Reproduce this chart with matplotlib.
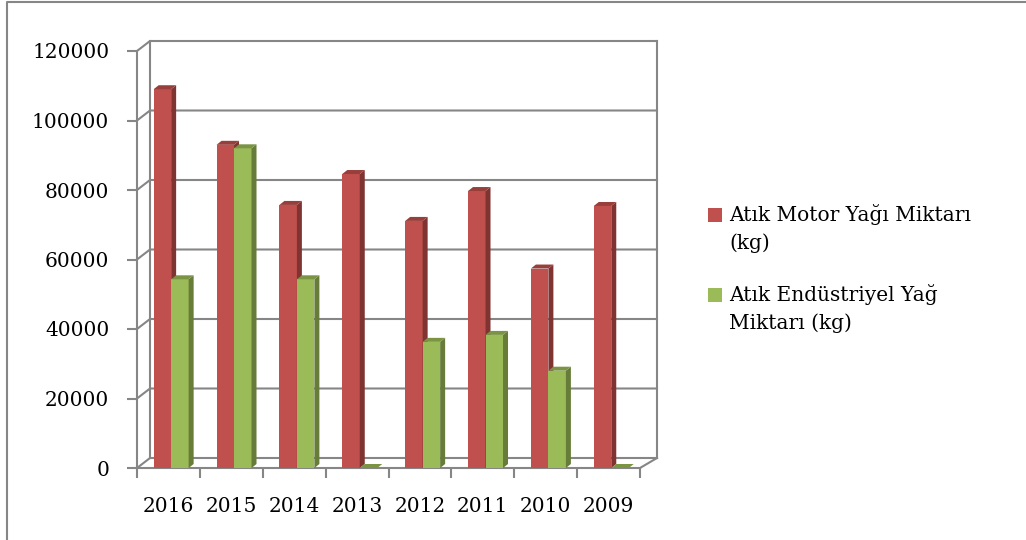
import matplotlib.pyplot as plt
from matplotlib.patches import Polygon, Rectangle
from matplotlib.lines import Line2D

years = ['2016', '2015', '2014', '2013', '2012', '2011', '2010', '2009']
motor = [109000, 93000, 75700, 84600, 71100, 79700, 57400, 75400]
endustriyel = [54300, 92000, 54300, 0, 36300, 38300, 28000, 0]
names = ['Atık Motor Yağı Miktarı\n(kg)', 'Atık Endüstriyel Yağ\nMiktarı (kg)']

W, H = 1026, 540
fig = plt.figure(figsize=(W / 100, H / 100), dpi=100)
plt.rcParams['font.family'] = ['DejaVu Serif']

def fx(px):
    return px / W

def fy(py):
    return 1 - py / H

# front plane of the 3d box
ax = fig.add_axes([fx(137), fy(468), fx(640) - fx(137), fy(51) - fy(468)])
ax.set_xlim(-0.5, 7.5)
ax.set_ylim(0, 120000)

ux = 503 / 8            # px per category
uy = 417 / 120000       # px per kg
DX, DY = 13 / ux, 10 / uy      # wall depth, left side
DXR = 17 / ux                  # wall depth, right side (perspective)
SX, SY = 5 / ux, 4 / uy        # bar depth
grid = '#868686'

# back wall, side wall and floor lines
yt = list(range(0, 120001, 20000))
for v in yt:
    ax.add_line(Line2D([-0.5, -0.5 + DX, 7.5 + DXR], [v, v + DY, v + DY],
                       color=grid, lw=1.5, clip_on=False, zorder=1))
ax.add_line(Line2D([-0.5 + DX, -0.5 + DX], [DY, 120000 + DY], color=grid, lw=1.5, clip_on=False, zorder=1))
ax.add_line(Line2D([7.5 + DXR, 7.5 + DXR], [DY, 120000 + DY], color=grid, lw=1.5, clip_on=False, zorder=1))
ax.add_line(Line2D([7.5, 7.5 + DXR], [0, DY], color=grid, lw=1.5, clip_on=False, zorder=1))

# bars with side and top faces
bw = 17.5 / ux
shift = 2.7 / ux
colors = [('#C0504D', '#7F3432', '#983E3B'), ('#9BBB59', '#667C38', '#7A9443')]
x = list(range(len(years)))
for i in x:
    for k, vals in enumerate([motor, endustriyel]):
        front, side, top = colors[k]
        left = i + shift - bw + k * bw
        b = ax.bar(left, vals[i], width=bw, align='edge', color=front,
                   edgecolor='none', zorder=3 + i * 2 + k)[0]
        x0, x1, h = b.get_x(), b.get_x() + b.get_width(), b.get_height()
        ax.add_patch(Polygon([(x1, 0), (x1, h), (x1 + SX, h + SY), (x1 + SX, SY)],
                             closed=True, color=side, lw=0, zorder=3 + i * 2 + k))
        ax.add_patch(Polygon([(x0, h), (x1, h), (x1 + SX, h + SY), (x0 + SX, h + SY)],
                             closed=True, color=top, lw=0, zorder=3 + i * 2 + k))

# front axes
for s in ['top', 'right']:
    ax.spines[s].set_visible(False)
for s in ['left', 'bottom']:
    ax.spines[s].set_color(grid)
    ax.spines[s].set_linewidth(1.5)
ax.set_facecolor('none')
ax.set_yticks(yt)
ax.set_yticklabels([str(v) for v in yt])
ax.tick_params(axis='y', direction='out', length=7, width=1.5, color=grid,
               pad=13, labelsize=14.5)
ax.set_xticks([i - 0.5 for i in range(9)])
ax.set_xticklabels([])
ax.set_xticks(x, minor=True)
ax.set_xticklabels(years, minor=True)
ax.tick_params(axis='x', which='major', direction='out', length=7, width=1.5, color=grid)
ax.tick_params(axis='x', which='minor', length=0, pad=21, labelsize=14.5)

# legend
leg_y = [215, 295]
for k in range(2):
    sq = colors[k][0]
    fig.patches.append(Rectangle((fx(708), fy(leg_y[k] + 7)), fx(14), 14 / H,
                                 transform=fig.transFigure, color=sq, lw=0))
    fig.text(fx(729), fy(leg_y[k] - 11), names[k], ha='left', va='top',
             fontsize=14.5, linespacing=1.55)

# chart border
fig.add_artist(Line2D([fx(7), fx(7), 1], [0, fy(2), fy(2)], transform=fig.transFigure,
                      color=grid, lw=1.5))

fig.savefig('out.png', dpi=100)
